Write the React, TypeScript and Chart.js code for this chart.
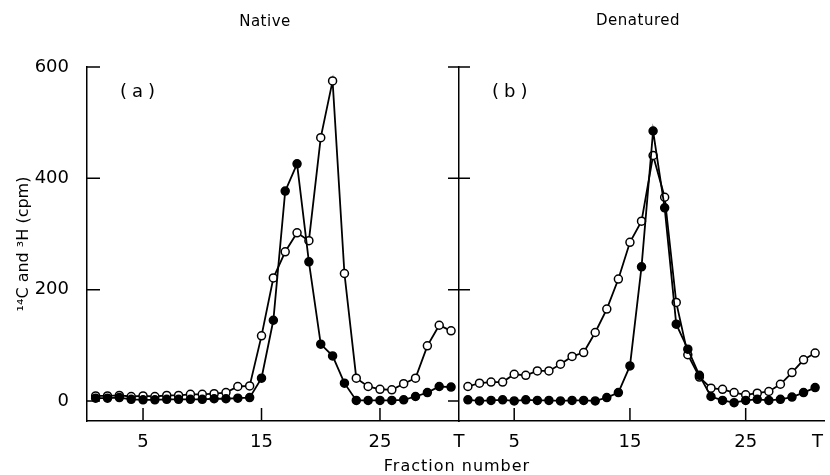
import React, { useEffect, useRef } from 'react';
import { Chart, registerables } from 'chart.js';

Chart.register(...registerables);

const fractions = [1, 2, 3, 4, 5, 6, 7, 8, 9, 10, 11, 12, 13, 14, 15, 16, 17, 18, 19, 20, 21, 22, 23, 24, 25, 26, 27, 28, 29, 30, 31];

// Panel (a) Native
const nativeOpen = [9, 9, 10, 8, 9, 8, 10, 10, 12, 12, 13, 15, 26, 27, 117, 221, 268, 302, 288, 473, 575, 229, 41, 26, 21, 20, 31, 41, 99, 136, 126];
const nativeFilled = [5, 5, 6, 3, 2, 2, 3, 3, 3, 3, 4, 4, 5, 6, 41, 145, 377, 426, 250, 102, 81, 32, 1, 1, 1, 1, 2, 8, 15, 26, 25];

// Panel (b) Denatured
const denaturedOpen = [26, 32, 34, 34, 48, 46, 54, 54, 66, 80, 87, 123, 165, 219, 285, 323, 441, 366, 177, 83, 43, 23, 21, 15, 11, 14, 17, 30, 51, 74, 86];
const denaturedFilled = [2, 0, 1, 2, 0, 2, 1, 1, 0, 1, 1, 0, 6, 15, 63, 241, 485, 347, 138, 93, 46, 8, 1, -3, 1, 3, 1, 3, 7, 15, 24];

const yTickValues = [0, 200, 400, 600];
const xTickValues = [5, 15, 25];
const xLabelText = 'Fraction number';
const yLabelText = '¹⁴C and ³H (cpm)';
const titleA = 'Native';
const titleB = 'Denatured';

const FONT = '"DejaVu Sans", sans-serif';

type PanelProps = {
  open: number[];
  filled: number[];
  label: string;
  xMin: number;
  xMax: number;
  tPos: number;
  shared: boolean;
  showYLabels: boolean;
  yAxisWidth: number;
  padRight: number;
  canvasWidth: number;
};

function Panel(p: PanelProps) {
  const ref = useRef<HTMLCanvasElement | null>(null);
  useEffect(() => {
    if (!ref.current) return;
    const toPts = (arr: number[]) => fractions.map((f, i) => ({ x: f, y: arr[i] }));
    const tickPlugin = {
      id: 'customTicks',
      afterDraw(chart: any) {
        const { ctx, chartArea } = chart;
        const xs = chart.scales.x;
        const ys = chart.scales.y;
        ctx.save();
        ctx.strokeStyle = '#000';
        ctx.lineWidth = 1.5;
        ctx.beginPath();
        for (const v of yTickValues) {
          const py = ys.getPixelForValue(v);
          const l = p.shared ? chartArea.left - 11 : chartArea.left;
          const r = chartArea.left + (p.shared ? (v === 0 ? 0 : 11) : 13);
          ctx.moveTo(l, py);
          ctx.lineTo(r, py);
        }
        for (const v of xTickValues) {
          const px = xs.getPixelForValue(v);
          ctx.moveTo(px, chartArea.bottom);
          ctx.lineTo(px, chartArea.bottom - 13);
        }
        ctx.stroke();
        ctx.fillStyle = '#000';
        ctx.font = '18px ' + FONT;
        (ctx as any).letterSpacing = '5px';
        ctx.textBaseline = 'middle';
        ctx.textAlign = 'left';
        ctx.fillText(p.label, chartArea.left + 33, chartArea.top + 25);
        ctx.restore();
      },
    };
    const chart = new Chart(ref.current, {
      type: 'line',
      data: {
        datasets: [
          {
            data: toPts(p.filled),
            borderColor: '#000',
            borderWidth: 1.8,
            pointRadius: 4,
            pointBorderWidth: 1.5,
            pointBackgroundColor: '#000',
            pointBorderColor: '#000',
            tension: 0,
          },
          {
            data: toPts(p.open),
            borderColor: '#000',
            borderWidth: 1.8,
            pointRadius: 4,
            pointBorderWidth: 1.5,
            pointBackgroundColor: '#fff',
            pointBorderColor: '#000',
            tension: 0,
          },
        ],
      },
      options: {
        animation: false,
        responsive: false,
        maintainAspectRatio: false,
        layout: { padding: { top: 67, right: p.padRight, bottom: 0, left: 0 } },
        plugins: { legend: { display: false }, tooltip: { enabled: false } },
        scales: {
          x: {
            type: 'linear',
            min: p.xMin,
            max: p.xMax,
            grid: { display: false },
            border: { display: true, color: '#000', width: 1.5 },
            ticks: {
              color: '#000',
              padding: 3,
              maxRotation: 0,
              font: { family: FONT, size: 18 },
              callback: (v: any) => (Math.abs(v - p.tPos) < 1e-6 ? 'T' : String(v)),
            },
            afterBuildTicks: (s: any) => {
              s.ticks = [...xTickValues, p.tPos].map((v) => ({ value: v }));
            },
            afterFit: (s: any) => {
              s.height = 54;
            },
          },
          y: {
            type: 'linear',
            min: -36,
            max: 600,
            grid: { display: false },
            border: { display: true, color: '#000', width: 1.5 },
            ticks: {
              display: p.showYLabels,
              color: '#000',
              padding: 10,
              font: { family: FONT, size: 18 },
            },
            afterBuildTicks: (s: any) => {
              s.ticks = yTickValues.map((v) => ({ value: v }));
            },
            afterFit: (s: any) => {
              s.width = p.yAxisWidth;
            },
            title: {
              display: p.showYLabels,
              text: yLabelText,
              color: '#000',
              font: { family: FONT, size: 16 },
              padding: { top: 14, bottom: 0 },
            },
          },
        },
      },
      plugins: [tickPlugin],
    } as any);
    return () => chart.destroy();
  }, []);
  return <canvas ref={ref} width={p.canvasWidth} height={475} style={{ display: 'block' }} />;
}

const textStyle: React.CSSProperties = {
  position: 'absolute',
  transform: 'translate(-50%, -50%)',
  fontFamily: FONT,
  fontSize: 15,
  color: '#000',
  whiteSpace: 'nowrap',
  letterSpacing: '0.5px',
};

export default function App() {
  return (
    <div style={{ position: 'absolute', left: 0, top: 0, width: 830, height: 475, background: '#fff', overflow: 'hidden' }}>
      <div style={{ position: 'absolute', left: 0, top: 0 }}>
        <Panel
          open={nativeOpen}
          filled={nativeFilled}
          label="(a)"
          xMin={0.27}
          xMax={31.67}
          tPos={31.67}
          shared={false}
          showYLabels={true}
          yAxisWidth={87}
          padRight={21}
          canvasWidth={480}
        />
      </div>
      <div style={{ position: 'absolute', left: 380, top: 0 }}>
        <Panel
          open={denaturedOpen}
          filled={denaturedFilled}
          label="(b)"
          xMin={0.23}
          xMax={31.81}
          tPos={31.2}
          shared={true}
          showYLabels={false}
          yAxisWidth={79}
          padRight={0}
          canvasWidth={450}
        />
      </div>
      <div style={{ ...textStyle, left: 265, top: 21 }}>{titleA}</div>
      <div style={{ ...textStyle, left: 638, top: 20 }}>{titleB}</div>
      <div style={{ ...textStyle, left: 457, top: 465, fontSize: 16, letterSpacing: '1px' }}>{xLabelText}</div>
    </div>
  );
}
